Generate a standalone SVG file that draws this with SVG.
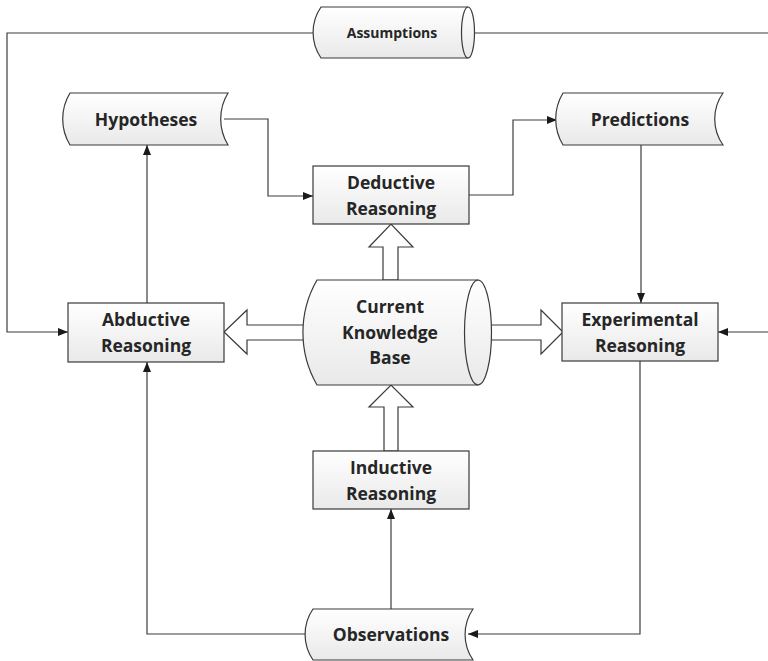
<svg xmlns="http://www.w3.org/2000/svg" width="768" height="661" viewBox="0 0 768 661">
  <defs>
    <linearGradient id="shade" x1="0" y1="0" x2="0" y2="1">
      <stop offset="0" stop-color="#ffffff"/>
      <stop offset="1" stop-color="#e9e9e9"/>
    </linearGradient>
    <marker id="arrow" viewBox="0 0 10 8" refX="10" refY="4" markerWidth="10" markerHeight="8" markerUnits="userSpaceOnUse" orient="auto">
      <path d="M0,0 L10,4 L0,8 Z" fill="#1a1a1a"/>
    </marker>
    <style>
      .shape { fill: url(#shade); stroke: #3a3a3a; stroke-width: 1.2; }
      .end { fill: none; stroke: #3a3a3a; stroke-width: 1.2; }
      .block { fill: #ffffff; stroke: #3a3a3a; stroke-width: 1.2; }
      .wire { fill: none; stroke: #3c3c3c; stroke-width: 1.2; }
      .lbl { font-family: "Open Sans", "Liberation Sans", sans-serif; font-weight: 700; font-size: 17.5px; fill: #262626; text-anchor: middle; }
      .small { font-size: 14px; }
    </style>
  </defs>

  <!-- connectors -->
  <g id="connectors">
    <path class="wire" d="M313,33 H7 V332 H68" marker-end="url(#arrow)"/>
    <path class="wire" d="M475,33 H769"/>
    <path class="wire" d="M769,332 H718" marker-end="url(#arrow)"/>
    <path class="wire" d="M147,303 V145" marker-end="url(#arrow)"/>
    <path class="wire" d="M224,119 H268 V196 H313" marker-end="url(#arrow)"/>
    <path class="wire" d="M469,195 H513 V120 H557" marker-end="url(#arrow)"/>
    <path class="wire" d="M641,145 V303" marker-end="url(#arrow)"/>
    <path class="wire" d="M640,361 V634 H468" marker-end="url(#arrow)"/>
    <path class="wire" d="M308,634 H147 V362" marker-end="url(#arrow)"/>
    <path class="wire" d="M391,609 V509" marker-end="url(#arrow)"/>
    <!-- hollow block arrows around the knowledge base -->
    <path class="block" d="M383,280 V247 H369 L391,224 L413,247 H398 V280 Z"/>
    <path class="block" d="M384,451 V407 H369 L391,385 L413,407 H398 V451 Z"/>
    <path class="block" d="M304,325 H247 V310 L224,332 L247,354 V340 H304 Z"/>
    <path class="block" d="M490,325 H541 V310 L563,332 L541,354 V340 H490 Z"/>
  </g>

  <g id="assumptions">
    <path class="shape" d="M321,7 H468 A6.5,25.5 0 0 1 468,58 H321 A45,45 0 0 1 321,7 Z"/>
    <path class="end" d="M468,7 A6.5,25.5 0 0 0 468,58"/>
    <text class="lbl small" x="392" y="38">Assumptions</text>
  </g>

  <g id="hypotheses">
    <path class="shape" d="M70,93 H228 A50,50 0 0 0 228,145 H70 A50,50 0 0 1 70,93 Z"/>
    <text class="lbl" x="146" y="126">Hypotheses</text>
  </g>

  <g id="predictions">
    <path class="shape" d="M563,93 H723 A45,45 0 0 0 723,145 H563 A50,50 0 0 1 563,93 Z"/>
    <text class="lbl" x="640" y="126">Predictions</text>
  </g>

  <g id="deductive">
    <rect class="shape" x="313" y="166" width="156" height="58"/>
    <text class="lbl" x="391" y="189">Deductive</text>
    <text class="lbl" x="391" y="215">Reasoning</text>
  </g>

  <g id="knowledge">
    <path class="shape" d="M317,280 H478 A13.5,52.5 0 0 1 478,385 H317 A105,105 0 0 1 317,280 Z"/>
    <path class="end" d="M478,280 A13.5,52.5 0 0 0 478,385"/>
    <text class="lbl" x="390" y="313">Current</text>
    <text class="lbl" x="390" y="339">Knowledge</text>
    <text class="lbl" x="390" y="364">Base</text>
  </g>

  <g id="abductive">
    <rect class="shape" x="68" y="303" width="156" height="59"/>
    <text class="lbl" x="146" y="326">Abductive</text>
    <text class="lbl" x="146" y="352">Reasoning</text>
  </g>

  <g id="experimental">
    <rect class="shape" x="562" y="303" width="156" height="58"/>
    <text class="lbl" x="640" y="326">Experimental</text>
    <text class="lbl" x="640" y="352">Reasoning</text>
  </g>

  <g id="inductive">
    <rect class="shape" x="313" y="451" width="156" height="58"/>
    <text class="lbl" x="391" y="474">Inductive</text>
    <text class="lbl" x="391" y="500">Reasoning</text>
  </g>

  <g id="observations">
    <path class="shape" d="M313,609 H473 A45,45 0 0 0 473,660 H313 A45,45 0 0 1 313,609 Z"/>
    <text class="lbl" x="391" y="641">Observations</text>
  </g>
</svg>
